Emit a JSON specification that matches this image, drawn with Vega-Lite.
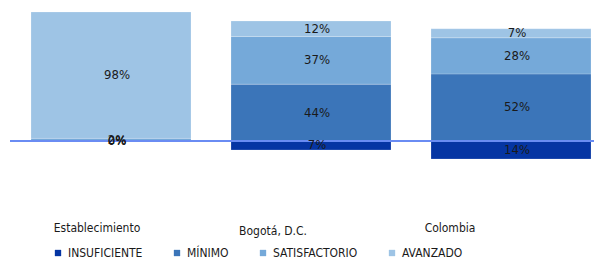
{
  "$schema": "https://vega.github.io/schema/vega-lite/v6.json",
  "width": 600,
  "height": 171,
  "autosize": {"type": "none"},
  "padding": {"left": 11, "top": 0, "right": 0, "bottom": 88},
  "background": "white",
  "config": {
    "view": {"stroke": null},
    "font": "DejaVu Sans Condensed, DejaVu Sans",
    "text": {"font": "DejaVu Sans Condensed, DejaVu Sans"}
  },
  "data": {
    "values": [
      {"cat": "Establecimiento", "nivel": "INSUFICIENTE", "ord": 1, "value": 0, "label": "0%"},
      {"cat": "Establecimiento", "nivel": "MÍNIMO", "ord": 2, "value": 0, "label": "0%"},
      {"cat": "Establecimiento", "nivel": "SATISFACTORIO", "ord": 3, "value": 2, "label": "2%"},
      {"cat": "Establecimiento", "nivel": "AVANZADO", "ord": 4, "value": 98, "label": "98%"},
      {"cat": "Bogotá, D.C.", "nivel": "INSUFICIENTE", "ord": 1, "value": -7, "label": "7%"},
      {"cat": "Bogotá, D.C.", "nivel": "MÍNIMO", "ord": 2, "value": 44, "label": "44%"},
      {"cat": "Bogotá, D.C.", "nivel": "SATISFACTORIO", "ord": 3, "value": 37, "label": "37%"},
      {"cat": "Bogotá, D.C.", "nivel": "AVANZADO", "ord": 4, "value": 12, "label": "12%"},
      {"cat": "Colombia", "nivel": "INSUFICIENTE", "ord": 1, "value": -14, "label": "14%"},
      {"cat": "Colombia", "nivel": "MÍNIMO", "ord": 2, "value": 52, "label": "52%"},
      {"cat": "Colombia", "nivel": "SATISFACTORIO", "ord": 3, "value": 28, "label": "28%"},
      {"cat": "Colombia", "nivel": "AVANZADO", "ord": 4, "value": 7, "label": "7%"}
    ]
  },
  "transform": [
    {"stack": "value", "groupby": ["cat"], "sort": [{"field": "ord", "order": "ascending"}], "as": ["v0", "v1"]},
    {"calculate": "(datum.v0 + datum.v1) / 2", "as": "mid"}
  ],
  "encoding": {
    "x": {
      "field": "cat", "type": "nominal", "sort": null,
      "scale": {"paddingInner": 0.2, "paddingOuter": 0.1},
      "axis": {
        "title": null, "domain": false, "ticks": false, "labelAngle": 0,
        "labelPadding": {"condition": {"test": "datum.value == 'Bogotá, D.C.'", "value": 54}, "value": 51},
        "labelOffset": {"condition": [{"test": "datum.value == 'Establecimiento'", "value": -14}, {"test": "datum.value == 'Colombia'", "value": -61}], "value": -38},
        "labelFontSize": 12, "labelColor": "#1a1a1a", "labelFont": "DejaVu Sans Condensed, DejaVu Sans"
      }
    }
  },
  "layer": [
    {
      "mark": {"type": "bar", "stroke": "white", "strokeWidth": 0.5, "strokeOpacity": 0.4},
      "encoding": {
        "y": {"field": "v0", "type": "quantitative", "scale": {"domain": [-23.3, 109.3], "nice": false, "zero": false}, "axis": null},
        "y2": {"field": "v1"},
        "color": {
          "field": "nivel", "type": "nominal",
          "scale": {"domain": ["INSUFICIENTE", "MÍNIMO", "SATISFACTORIO", "AVANZADO"], "range": ["#0535a3", "#3b75b9", "#75a9d9", "#9ec4e5"]},
          "legend": {
            "title": null, "orient": "none", "direction": "horizontal", "columns": 4,
            "legendX": 41, "legendY": 247, "symbolType": "square", "symbolSize": 40,
            "columnPadding": 28, "labelFontSize": 12, "labelColor": "#1a1a1a",
            "labelFont": "DejaVu Sans Condensed, DejaVu Sans", "symbolStrokeWidth": 0
          }
        }
      }
    },
    {
      "mark": {"type": "rule", "color": "#6a8cf2", "strokeWidth": 2, "opacity": 0.85},
      "encoding": {"y": {"datum": 0, "type": "quantitative"}, "x": {"value": -1}, "x2": {"value": 600}}
    },
    {
      "mark": {"type": "text", "fontSize": 13, "color": "#1a1a1a", "baseline": "middle", "dx": 6},
      "encoding": {
        "y": {"field": "mid", "type": "quantitative"},
        "text": {"field": "label"}
      }
    }
  ]
}
